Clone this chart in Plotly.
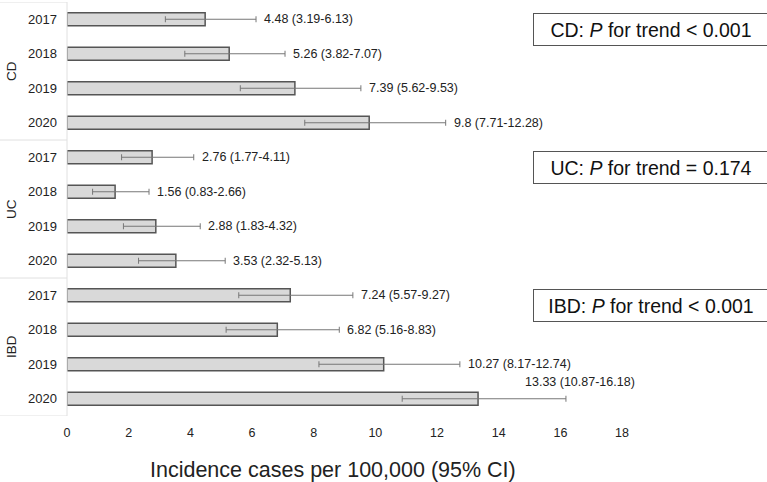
import plotly.graph_objects as go

groups = ["CD", "UC", "IBD"]
years = ["2017", "2018", "2019", "2020"]
cd_vals = [4.48, 5.26, 7.39, 9.8]
cd_low = [3.19, 3.82, 5.62, 7.71]
cd_high = [6.13, 7.07, 9.53, 12.28]
uc_vals = [2.76, 1.56, 2.88, 3.53]
uc_low = [1.77, 0.83, 1.83, 2.32]
uc_high = [4.11, 2.66, 4.32, 5.13]
ibd_vals = [7.24, 6.82, 10.27, 13.33]
ibd_low = [5.57, 5.16, 8.17, 10.87]
ibd_high = [9.27, 8.83, 12.74, 16.18]
labels = ["4.48 (3.19-6.13)", "5.26 (3.82-7.07)", "7.39 (5.62-9.53)", "9.8 (7.71-12.28)",
          "2.76 (1.77-4.11)", "1.56 (0.83-2.66)", "2.88 (1.83-4.32)", "3.53 (2.32-5.13)",
          "7.24 (5.57-9.27)", "6.82 (5.16-8.83)", "10.27 (8.17-12.74)", "13.33 (10.87-16.18)"]
trend_texts = ["CD: <i>P</i> for trend < 0.001", "UC: <i>P</i> for trend = 0.174",
               "IBD: <i>P</i> for trend < 0.001"]
x_title = "Incidence cases per 100,000 (95% CI)"
x_ticks = [0, 2, 4, 6, 8, 10, 12, 14, 16, 18]

vals = cd_vals + uc_vals + ibd_vals
lows = cd_low + uc_low + ibd_low
highs = cd_high + uc_high + ibd_high
ypos = list(range(len(vals)))
ytext = years * 3

fig = go.Figure()
fig.add_trace(go.Bar(
    x=vals, y=ypos, orientation="h", width=0.38,
    marker=dict(color="#d9d9d9", line=dict(color="#555555", width=1.5)),
    error_x=dict(type="data", symmetric=False,
                 array=[h - v for h, v in zip(highs, vals)],
                 arrayminus=[v - l for v, l in zip(vals, lows)],
                 color="#777777", thickness=1, width=3),
    hoverinfo="skip",
))

FONT = "Liberation Sans, Arial, sans-serif"
ann = []
for i, (h, t) in enumerate(zip(highs, labels)):
    if i == len(labels) - 1:
        ann.append(dict(x=h, y=i, text=t, showarrow=False, xanchor="center",
                        xshift=14, yshift=17, font=dict(size=12.5, color="#222")))
    else:
        ann.append(dict(x=h, y=i, text=t, showarrow=False, xanchor="left",
                        xshift=6, font=dict(size=12.5, color="#222")))
for g_i, g in enumerate(groups):
    ann.append(dict(x=-0.08, xref="paper", y=g_i * 4 + 1.5, text=g, showarrow=False,
                    textangle=-90, xanchor="center", font=dict(size=13.5, color="#222")))
    ann.append(dict(x=0.834, xref="paper", y=g_i * 4 + 0.3, text=trend_texts[g_i],
                    showarrow=False, xanchor="center", yanchor="middle",
                    width=228, height=25, borderpad=3, bordercolor="#555", borderwidth=1,
                    bgcolor="white", font=dict(size=19.5, color="#111")))
ann.append(dict(x=0.38, xref="paper", y=-0.13, yref="paper", text=x_title, showarrow=False,
                xanchor="center", yanchor="middle", font=dict(size=21.5, color="#222")))

shapes = []
for b in [-0.5, 3.5, 7.5, 11.5]:
    shapes.append(dict(type="line", xref="paper", x0=-0.097, x1=0, y0=b, y1=b,
                       line=dict(color="#e0e0e0", width=1)))
shapes.append(dict(type="line", xref="paper", x0=0, x1=0, y0=-0.5, y1=11.5,
                   line=dict(color="#e0e0e0", width=1)))

fig.update_layout(
    width=767, height=482,
    margin=dict(l=67, r=0, t=2, b=66, autoexpand=False),
    plot_bgcolor="white", paper_bgcolor="white",
    font=dict(family=FONT, color="#222"),
    showlegend=False,
    annotations=ann, shapes=shapes,
    xaxis=dict(range=[0, 22.7], tickvals=x_ticks, showgrid=False, zeroline=False,
               showline=False, ticks="", tickfont=dict(size=12.5, color="#222"),
               automargin=False, ticklabelstandoff=7),
    yaxis=dict(range=[11.5, -0.5], tickvals=ypos, ticktext=ytext, showgrid=False,
               zeroline=False, showline=False, ticks="", ticklabelstandoff=9,
               automargin=False, tickfont=dict(size=13, color="#222")),
)
fig.write_html("out.html", config={"displayModeBar": False},
               post_script="document.body.style.margin='0';document.body.style.overflow='hidden';")
